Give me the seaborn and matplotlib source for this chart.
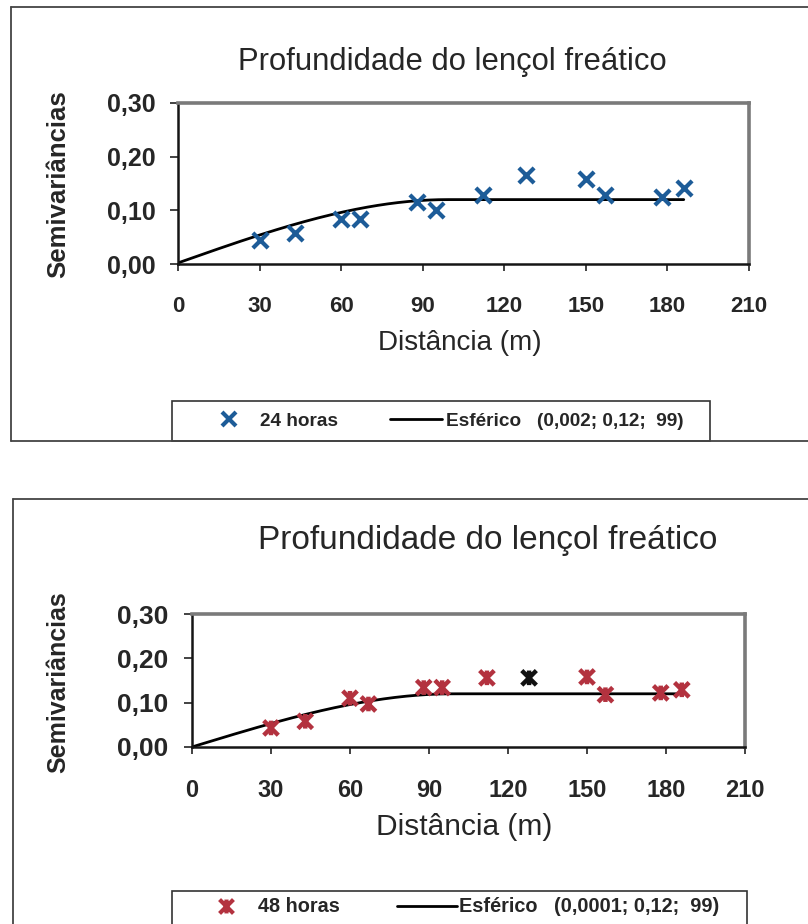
import numpy as np
import pandas as pd
import matplotlib
matplotlib.use("Agg")
import matplotlib.pyplot as plt
from matplotlib.path import Path
from matplotlib.lines import Line2D
from matplotlib.patches import Rectangle
from matplotlib.ticker import FuncFormatter, FixedLocator
import seaborn as sns

# ---------------- data ----------------
distancias = [30, 43, 60, 67, 88, 95, 112, 128, 150, 157, 178, 186]
semi_24h = [0.045, 0.058, 0.083, 0.083, 0.116, 0.100, 0.129, 0.166, 0.159, 0.129, 0.125, 0.142]
semi_48h = [0.043, 0.058, 0.110, 0.097, 0.134, 0.134, 0.156, 0.156, 0.158, 0.118, 0.122, 0.129]

# spherical model parameters (nugget; sill; range)
modelo_24h = (0.002, 0.12, 99)
modelo_48h = (0.0001, 0.12, 99)

x_ticks = [0, 30, 60, 90, 120, 150, 180, 210]
y_ticks = [0.00, 0.10, 0.20, 0.30]

titulo = "Profundidade do lençol freático"
rotulo_x = "Distância (m)"
rotulo_y = "Semivariâncias"
serie_24 = "24 horas"
serie_48 = "48 horas"
leg_modelo_24 = "Esférico   (0,002; 0,12;  99)"
leg_modelo_48 = "Esférico   (0,0001; 0,12;  99)"
destaque_48 = 128  # lag drawn in black in the 48 h series

# ---------------- style ----------------
sns.set_style("white")
plt.rcParams["font.family"] = ["Liberation Sans", "DejaVu Sans"]

W, H = 808, 924
fig = plt.figure(figsize=(W / 100, H / 100), dpi=100)


def fx(px):
    return px / W


def fy(py):
    return 1 - py / H


def esferico(h, c0, sill, a):
    h = np.asarray(h, dtype=float)
    r = np.clip(h / a, 0, 1)
    g = c0 + (sill - c0) * (1.5 * r - 0.5 * r ** 3)
    g[h == 0] = 0.0
    return g


blue = "#1d5c98"
red = "#b3323f"

# Excel-like star marker: an X crossed by a vertical bar
star = Path(
    [(-1, -1), (1, 1), (-1, 1), (1, -1), (0, -1), (0, 1)],
    [Path.MOVETO, Path.LINETO, Path.MOVETO, Path.LINETO, Path.MOVETO, Path.LINETO],
)


def style_axes(ax, xt_size, yt_size, xpad, ypad):
    ax.set_xlim(0, 210)
    ax.set_ylim(0, 0.30)
    ax.xaxis.set_major_locator(FixedLocator(x_ticks))
    ax.yaxis.set_major_locator(FixedLocator(y_ticks))
    ax.yaxis.set_major_formatter(FuncFormatter(lambda v, p: f"{v:.2f}".replace(".", ",")))
    ax.xaxis.set_major_formatter(FuncFormatter(lambda v, p: f"{v:.0f}"))
    ax.tick_params(axis="x", direction="out", length=5, width=1.2, color="#222",
                   labelsize=xt_size, pad=xpad, bottom=True)
    ax.tick_params(axis="y", direction="out", length=6, width=1.2, color="#222",
                   labelsize=yt_size, pad=ypad, left=True)
    for lab in ax.get_xticklabels() + ax.get_yticklabels():
        lab.set_fontweight("bold")
    for side in ("left", "bottom"):
        ax.spines[side].set_color("#151515")
        ax.spines[side].set_linewidth(1.8)
    for side in ("top", "right"):
        ax.spines[side].set_color("#7a7a7a")
        ax.spines[side].set_linewidth(2.6)
    ax.set_xlabel("")
    ax.set_ylabel("")
    ax.set_facecolor("white")


# ---------------- top panel: 24 h ----------------
ax1 = fig.add_axes([fx(178), fy(264), fx(749) - fx(178), fy(103) - fy(264)])
df24 = pd.DataFrame({"d": distancias, "g": semi_24h})
h = np.linspace(0, max(distancias), 300)
sns.lineplot(x=h, y=esferico(h, *modelo_24h), ax=ax1, color="black", linewidth=2.0)
sns.scatterplot(data=df24, x="d", y="g", ax=ax1, marker="x", color=blue,
                s=120, linewidth=3.0, zorder=5)
style_axes(ax1, 16, 18, 18, 10)

fig.text(fx(452), fy(62), titulo, ha="center", va="center", fontsize=22.3)
fig.text(fx(460), fy(343), rotulo_x, ha="center", va="center", fontsize=20)
fig.text(fx(58), fy(184), rotulo_y, ha="center", va="center", rotation=90,
         fontsize=18.5, fontweight="bold")

h1 = [Line2D([], [], ls="none", marker="x", color=blue, markersize=10.5, markeredgewidth=3.0),
      Line2D([], [], color="black", linewidth=2.0)]
fig.legend(h1, [serie_24, leg_modelo_24], ncol=2, frameon=False,
           loc="center left", bbox_to_anchor=(fx(203), fy(421)),
           bbox_transform=fig.transFigure, borderpad=0, borderaxespad=0,
           handlelength=2.75, handletextpad=0.22, columnspacing=2.75,
           prop={"weight": "bold", "size": 13.7})
fig.add_artist(Rectangle((fx(172), fy(441)), fx(710) - fx(172), fy(401) - fy(441),
                         transform=fig.transFigure, fill=False, ec="#333", lw=1.2))

# panel frame (top)
for xs, ys in [((11, 808), (7, 7)), ((11, 11), (7, 441)), ((11, 808), (441, 441))]:
    fig.add_artist(Line2D([fx(v) for v in xs], [fy(v) for v in ys],
                          transform=fig.transFigure, color="#444", lw=1.3))

# ---------------- bottom panel: 48 h ----------------
ax2 = fig.add_axes([fx(192), fy(747), fx(745) - fx(192), fy(614) - fy(747)])
df48 = pd.DataFrame({"d": distancias, "g": semi_48h})
df48["grupo"] = np.where(df48["d"] == destaque_48, "b", "a")
sns.lineplot(x=h, y=esferico(h, *modelo_48h), ax=ax2, color="black", linewidth=2.0)
sns.scatterplot(data=df48, x="d", y="g", hue="grupo", palette={"a": red, "b": "#111111"},
                ax=ax2, marker=star, s=110, linewidth=3.2, legend=False, zorder=5)
for coll in ax2.collections:
    coll.set_edgecolors(coll.get_facecolors())
style_axes(ax2, 17, 19, 18, 11)

fig.text(fx(488), fy(540), titulo, ha="center", va="center", fontsize=24)
fig.text(fx(464), fy(827), rotulo_x, ha="center", va="center", fontsize=21.5)
fig.text(fx(58), fy(682), rotulo_y, ha="center", va="center", rotation=90,
         fontsize=18, fontweight="bold")

h2 = [Line2D([], [], ls="none", marker=star, color=red, markersize=10, markeredgewidth=3.0),
      Line2D([], [], color="black", linewidth=2.0)]
fig.legend(h2, [serie_48, leg_modelo_48], ncol=2, frameon=False,
           loc="center left", bbox_to_anchor=(fx(196), fy(907)),
           bbox_transform=fig.transFigure, borderpad=0, borderaxespad=0,
           handlelength=3.0, handletextpad=0.12, columnspacing=2.9,
           prop={"weight": "bold", "size": 14.3})
fig.add_artist(Rectangle((fx(172), fy(930)), fx(747) - fx(172), fy(891) - fy(930),
                         transform=fig.transFigure, fill=False, ec="#333", lw=1.2))

# panel frame (bottom)
for xs, ys in [((13, 808), (499, 499)), ((13, 13), (499, 930))]:
    fig.add_artist(Line2D([fx(v) for v in xs], [fy(v) for v in ys],
                          transform=fig.transFigure, color="#444", lw=1.3))

fig.savefig("out.png", dpi=100, facecolor="white")
